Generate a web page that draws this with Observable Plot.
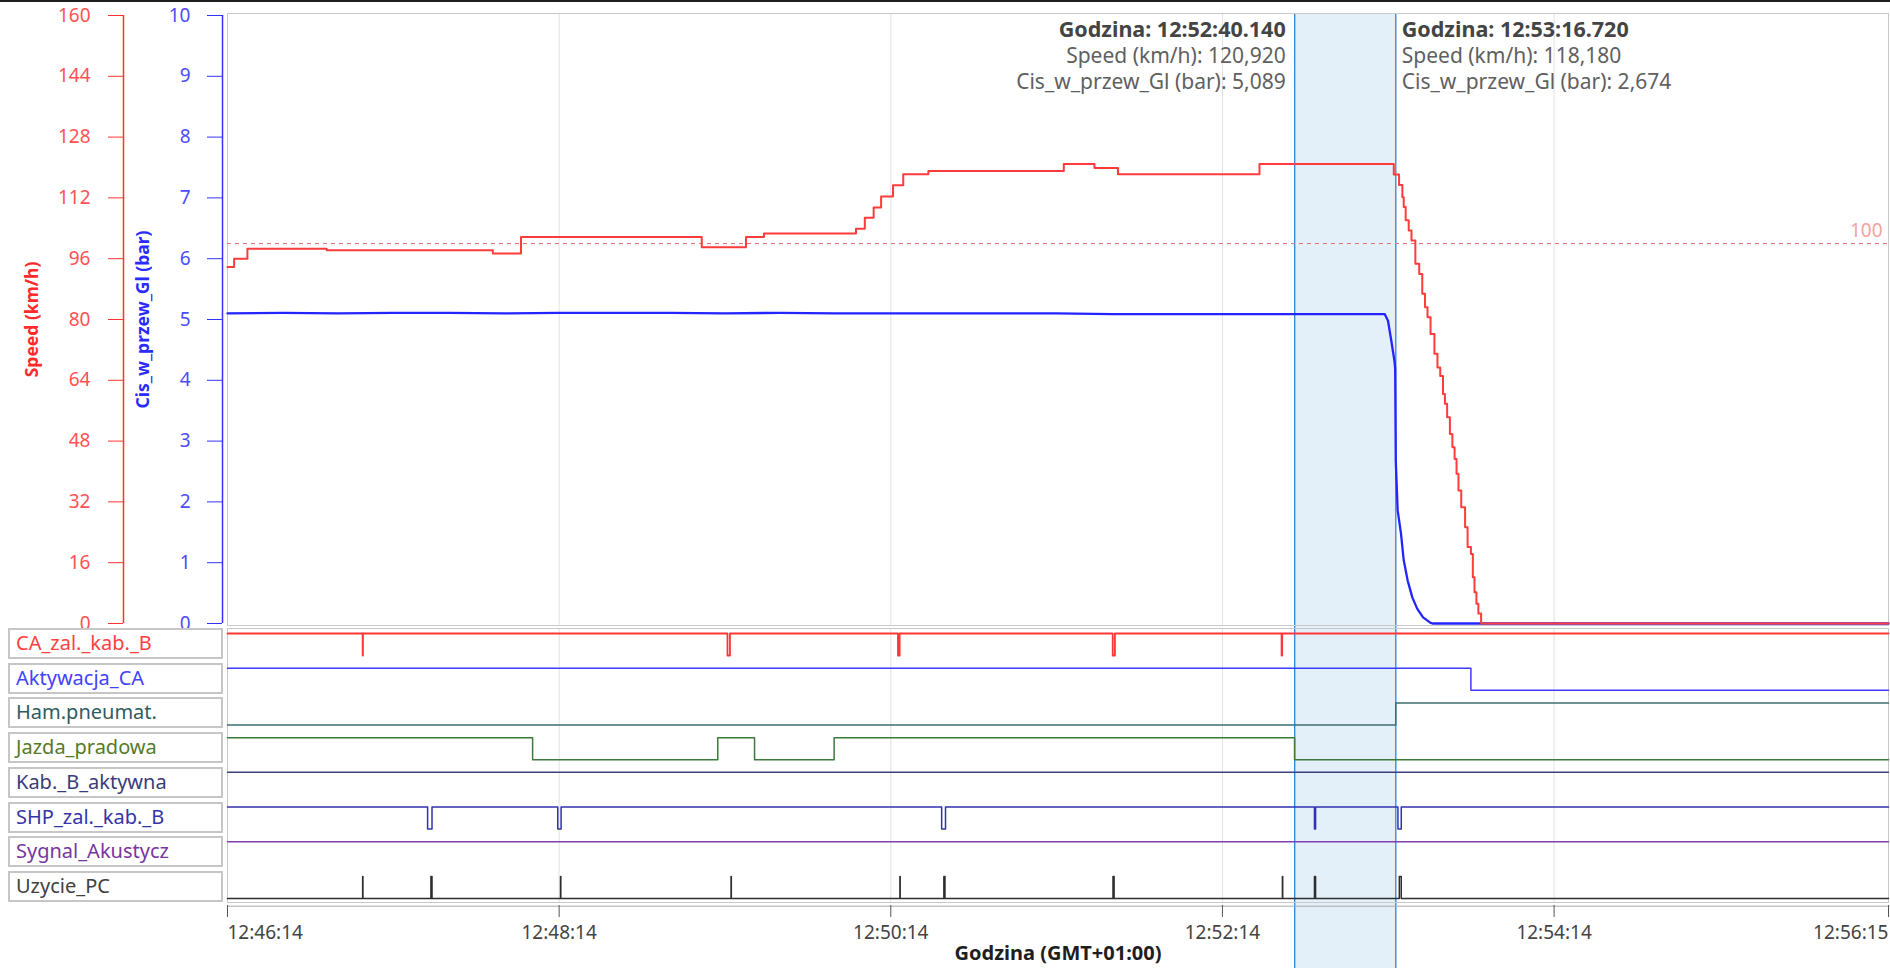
<!DOCTYPE html>
<html>
<head>
<meta charset="utf-8">
<script src="https://cdn.jsdelivr.net/npm/d3@7"></script>
<script src="https://cdn.jsdelivr.net/npm/@observablehq/plot@0.6"></script>
<style>
  html, body { margin: 0; padding: 0; background: #fff; }
  #chart { position: relative; width: 1890px; height: 968px; overflow: hidden; font-family: "Noto Sans", sans-serif; background: #fff; }
  #chart .layer { position: absolute; left: 0; }
  #topline { position: absolute; left: 0; top: 0; width: 1890px; height: 2px; background: #1e1e1e; }
  .lane-label { position: absolute; left: 8px; width: 215px; height: 31px; box-sizing: border-box;
    border: 2px solid #c6c6c6; font-size: 20px; line-height: 26px; padding-left: 6px; white-space: nowrap; background: #fff; }
</style>
</head>
<body>
<div id="chart"><div id="topline"></div></div>
<script>
// ---------------- DATA ----------------
const xDomainLabels = ["12:46:14", "12:56:15"];
const xTickLabels = ["12:46:14", "12:48:14", "12:50:14", "12:52:14", "12:54:14", "12:56:15"];
const xAxisTitle = "Godzina (GMT+01:00)";

const speedTitle = "Speed (km/h)";
const pressureTitle = "Cis_w_przew_Gl (bar)";
const speedTicks = [0, 16, 32, 48, 64, 80, 96, 112, 128, 144, 160];
const pressureTicks = [0, 1, 2, 3, 4, 5, 6, 7, 8, 9, 10];
const speedLimit = [100];

// Speed (km/h), recorded as steps
const speedTime = ["12:46:14.0","12:46:16.4","12:46:21.2","12:46:49.9","12:47:50.0","12:48:00.2","12:49:05.6",
  "12:49:21.6","12:49:28.1","12:50:01.4","12:50:04.6","12:50:07.8","12:50:10.5","12:50:14.8","12:50:18.5",
  "12:50:27.6","12:51:16.6","12:51:27.7","12:51:36.2","12:52:27.4","12:53:16.0","12:53:17.9","12:53:19.1",
  "12:53:19.6","12:53:20.3","12:53:21.4","12:53:22.4","12:53:23.8","12:53:25.2","12:53:26.3","12:53:27.3",
  "12:53:28.2","12:53:29.3","12:53:30.7","12:53:31.8","12:53:32.8","12:53:33.8","12:53:34.5","12:53:35.3",
  "12:53:36.3","12:53:37.2","12:53:38.0","12:53:38.7","12:53:39.4","12:53:40.4","12:53:41.8","12:53:42.7",
  "12:53:43.9","12:53:44.6","12:53:45.2","12:53:45.9","12:53:46.6","12:53:47.6","12:56:15.0"];
const speedValue = [93.8, 96.0, 98.6, 98.2, 97.4, 101.7, 99.0,
  101.7, 102.6, 103.9, 106.8, 109.5, 112.4, 115.3, 118.2,
  119.1, 120.9, 119.9, 118.2, 120.92, 118.18, 115.4, 112.2,
  109.6, 106.1, 103.4, 100.8, 94.7, 92.0, 86.8, 83.2,
  80.6, 76.2, 71.0, 67.4, 65.1, 60.4, 57.8, 54.3,
  49.9, 46.4, 43.3, 39.4, 35.0, 30.6, 25.3, 20.1,
  18.3, 12.2, 8.2, 5.2, 2.6, 0, 0];

// Brake pipe pressure (bar)
const pressureTime = ["12:46:14.0","12:46:34.0","12:46:54.0","12:47:14.0","12:47:34.0","12:47:54.0","12:48:14.0",
  "12:48:34.0","12:48:54.0","12:49:14.0","12:49:34.0","12:49:54.0","12:50:14.0","12:50:34.0","12:50:54.0",
  "12:51:14.0","12:51:34.0","12:51:54.0","12:52:14.0","12:52:34.0","12:52:40.14","12:53:00.0","12:53:12.7",
  "12:53:13.9","12:53:15.1","12:53:16.2","12:53:16.5","12:53:16.72","12:53:17.4","12:53:18.6","12:53:19.6",
  "12:53:21.0","12:53:22.7","12:53:24.5","12:53:26.6","12:53:29.3","12:53:30.0","12:56:15.0"];
const pressureValue = [5.10, 5.11, 5.10, 5.11, 5.11, 5.10, 5.11,
  5.11, 5.11, 5.10, 5.11, 5.10, 5.10, 5.10, 5.10,
  5.10, 5.09, 5.09, 5.09, 5.09, 5.089, 5.09, 5.09,
  4.98, 4.65, 4.33, 4.20, 2.674, 1.86, 1.48, 1.04,
  0.71, 0.43, 0.24, 0.10, 0.01, 0, 0];

// Cursors
const cursorTime = ["12:52:40.140", "12:53:16.720"];
const cursorSpeed = [120.920, 118.180];
const cursorPressure = [5.089, 2.674];

// Digital signals: name, initial state (1 = high), times at which the state toggles
const laneNames = ["CA_zal._kab._B", "Aktywacja_CA", "Ham.pneumat.", "Jazda_pradowa", "Kab._B_aktywna",
  "SHP_zal._kab._B", "Sygnal_Akustycz", "Uzycie_PC"];
const laneInitial = [1, 1, 0, 1, 1, 1, 1, 0];
const laneToggles = [
  ["12:47:02.9","12:47:03.0","12:49:14.9","12:49:15.8","12:50:16.6","12:50:17.2","12:51:34.3","12:51:35.1","12:52:35.4","12:52:35.6"],
  ["12:53:43.9"],
  ["12:53:16.7"],
  ["12:48:04.4","12:49:11.4","12:49:24.7","12:49:53.5","12:52:40.1"],
  [],
  ["12:47:26.4","12:47:28.0","12:48:13.5","12:48:14.7","12:50:32.4","12:50:33.8","12:52:47.3","12:52:47.7","12:53:17.5","12:53:18.7"],
  [],
  ["12:47:02.9","12:47:03.0","12:47:27.6","12:47:28.0","12:48:14.5","12:48:14.6","12:49:16.2","12:49:16.3","12:50:17.3","12:50:17.4",
   "12:50:33.2","12:50:33.6","12:51:34.4","12:51:34.8","12:52:35.7","12:52:35.8","12:52:47.3","12:52:47.7","12:53:18.0","12:53:18.7"]
];

// ---------------- STYLES ----------------
const laneStroke = ["#ff3636", "#3c3cff", "#3f6e70", "#3b7a3b", "#3d3d80", "#3232b0", "#8040b0", "#2e2e2e"];
const laneWidth = [1.8, 1.5, 1.5, 1.5, 1.5, 1.5, 1.5, 1.5];
const laneText = ["#ff4040", "#4242ff", "#2f5c60", "#567a26", "#3b3b7a", "#3434a8", "#7636a0", "#404040"];
const speedColor = "#ff3b3b", pressureColor = "#2424ff";

// ---------------- HELPERS ----------------
const T = s => { const [h, m, sec] = s.split(":"); return new Date(Date.UTC(2000, 0, 1, +h, +m) + Math.round(parseFloat(sec) * 1000)); };
const fmtPL = v => d3.format(".3f")(v).replace(".", ",");
const ratio = speedTicks[speedTicks.length - 1] / pressureTicks[pressureTicks.length - 1];

const xStart = T(xDomainLabels[0]), xEnd = T(xDomainLabels[1]);
const xScale = {type: "utc", domain: [xStart, xEnd], axis: null};
const xTicks = xTickLabels.map((label, i) => ({t: T(label), label, pos: i === 0 ? "start" : i === xTickLabels.length - 1 ? "end" : "middle"}));
const speedData = speedTime.map((t, i) => ({t: T(t), v: speedValue[i]}));
const pressureData = pressureTime.map((t, i) => ({t: T(t), p: pressureValue[i]}));
const cursors = cursorTime.map((c, i) => ({t: T(c), title: `Godzina: ${c}`,
  speed: `Speed (km/h): ${fmtPL(cursorSpeed[i])}`, press: `Cis_w_przew_Gl (bar): ${fmtPL(cursorPressure[i])}`}));

const HIGH = 0.144, LOW = 0.778; // level offsets inside a lane
const laneSeries = laneNames.map((name, k) => {
  let s = laneInitial[k];
  const pts = [{t: xStart, y: k + (s ? HIGH : LOW)}];
  for (const tt of laneToggles[k]) { s = 1 - s; pts.push({t: T(tt), y: k + (s ? HIGH : LOW)}); }
  pts.push({t: xEnd, y: k + (s ? HIGH : LOW)});
  return pts;
});

const W = 1890;
const common = {width: W, marginLeft: 227, marginRight: 2,
  style: {background: "transparent", fontFamily: "'Noto Sans', sans-serif", fontSize: "19px", overflow: "visible"}};
const chart = document.getElementById("chart");
function place(svg, top) { svg.classList.add("layer"); svg.style.top = top + "px"; chart.appendChild(svg); }

// background: cursor band and cursor lines
const bg = Plot.plot({...common, height: 968, marginTop: 13, marginBottom: 0,
  x: xScale,
  marks: [
    Plot.rect([{a: cursors[0].t, b: cursors[1].t}], {x1: "a", x2: "b", fill: "#e3f0fa"}),
    Plot.ruleX(cursors, {x: "t", stroke: "#3a8bd6", strokeWidth: 1.4})
  ]});
place(bg, 0);

// main panel: speed and pressure
const hdr = {x: "t", frameAnchor: "top", lineAnchor: "middle"};
const main = Plot.plot({...common, height: 628, marginTop: 13, marginBottom: 3,
  x: xScale,
  y: {domain: [0, 160], range: [623, 15], axis: null},
  marks: [
    Plot.ruleX(xTicks, {x: "t", stroke: "#e2e2e2"}),
    Plot.frame({stroke: "#c9c9c9"}),
    Plot.ruleY(speedLimit, {stroke: "#f07272", strokeDasharray: "4,4"}),
    Plot.text(speedLimit, {y: d => d, text: d => String(d), frameAnchor: "right", textAnchor: "end", lineAnchor: "middle", dx: -6, dy: -13, fill: "#f4a39d"}),
    Plot.line(pressureData, {x: "t", y: d => d.p * ratio, stroke: pressureColor, strokeWidth: 2.3}),
    Plot.line(speedData, {x: "t", y: "v", curve: "step-after", stroke: speedColor, strokeWidth: 2}),
    Plot.axisY(speedTicks, {anchor: "left", tickSize: 15, tickPadding: 18, dx: -104, stroke: "#ff3333", fill: "#ff5252", label: null}),
    Plot.ruleX([xStart], {y1: 0, y2: 160, dx: -104, stroke: "#ff3333", strokeWidth: 1.5}),
    Plot.axisY(pressureTicks.map(p => p * ratio), {anchor: "left", tickSize: 15, tickPadding: 17, dx: -5, stroke: "#3333ff", fill: "#4c4cff", tickFormat: d => d / ratio, label: null}),
    Plot.ruleX([xStart], {y1: 0, y2: 160, dx: -5, stroke: "#3333ff", strokeWidth: 1.5}),
    Plot.text([speedTitle], {frameAnchor: "left", textAnchor: "middle", lineAnchor: "middle", dx: -195, rotate: -90, fill: "#ff2a2a", fontWeight: "bold", fontSize: 17.5}),
    Plot.text([pressureTitle], {frameAnchor: "left", textAnchor: "middle", lineAnchor: "middle", dx: -84, rotate: -90, fill: "#2a2aff", fontWeight: "bold", fontSize: 17.5}),
    Plot.text([cursors[0]], {...hdr, text: "title", dy: 17, dx: -9, textAnchor: "end", fontWeight: "bold", fill: "#444", fontSize: 21.5}),
    Plot.text([cursors[0]], {...hdr, text: "speed", dy: 43, dx: -9, textAnchor: "end", fill: "#606060", fontSize: 21}),
    Plot.text([cursors[0]], {...hdr, text: "press", dy: 69, dx: -9, textAnchor: "end", fill: "#606060", fontSize: 21}),
    Plot.text([cursors[1]], {...hdr, text: "title", dy: 17, dx: 6, textAnchor: "start", fontWeight: "bold", fill: "#444", fontSize: 21.5}),
    Plot.text([cursors[1]], {...hdr, text: "speed", dy: 43, dx: 6, textAnchor: "start", fill: "#606060", fontSize: 21}),
    Plot.text([cursors[1]], {...hdr, text: "press", dy: 69, dx: 6, textAnchor: "start", fill: "#606060", fontSize: 21})
  ]});
place(main, 0);

// lanes panel + time axis
const laneMarks = laneSeries.map((pts, k) => Plot.line(pts, {x: "t", y: "y", curve: "step-after", stroke: laneStroke[k], strokeWidth: laneWidth[k]}));
const tickLab = {x: "t", text: "label", frameAnchor: "bottom", lineAnchor: "middle", dy: 30, fill: "#444"};
const lanes = Plot.plot({...common, height: 340, marginTop: 0, marginBottom: 66,
  x: xScale,
  y: {domain: [0, 8], range: [0, 277.7], axis: null},
  marks: [
    Plot.ruleX(xTicks, {x: "t", stroke: "#e2e2e2"}),
    Plot.frame({stroke: "#c9c9c9"}),
    Plot.ruleY([8], {stroke: "#a9a9a9"}),
    ...laneMarks,
    Plot.axisX(xTicks.map(d => d.t), {anchor: "bottom", tickSize: 12, dy: 3, stroke: "#555", fill: "none", label: null}),
    Plot.text(xTicks, {...tickLab, filter: d => d.pos === "start", textAnchor: "start"}),
    Plot.text(xTicks, {...tickLab, filter: d => d.pos === "middle", textAnchor: "middle"}),
    Plot.text(xTicks, {...tickLab, filter: d => d.pos === "end", textAnchor: "end"}),
    Plot.text([xAxisTitle], {frameAnchor: "bottom", dy: 57, fontWeight: "bold", fill: "#1e1e1e", fontSize: 20})
  ]});
place(lanes, 628);

// lane name boxes
laneNames.forEach((name, k) => {
  const div = document.createElement("div");
  div.className = "lane-label";
  div.style.top = (628 + k * 277.7 / 8) + "px";
  div.style.color = laneText[k];
  div.textContent = name;
  chart.appendChild(div);
});
</script>
</body>
</html>
